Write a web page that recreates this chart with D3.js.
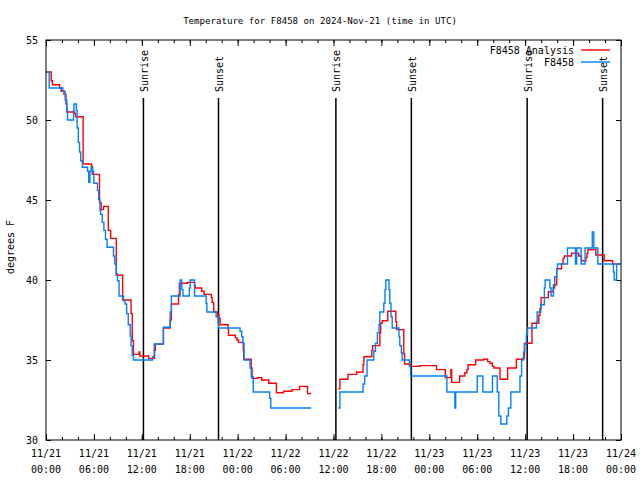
<!DOCTYPE html>
<html><head><meta charset="utf-8">
<script src="https://cdn.jsdelivr.net/npm/d3@7"></script>
<style>
body{margin:0;background:#fff}
text{font-family:"DejaVu Sans Mono",monospace;font-size:10px;fill:#000}
</style>
</head><body>
<svg id="c" width="640" height="480"></svg>
<script>
// ---- data (hours since 11/21 00:00 UTC; temperature in degrees F) ----
const anaHours = [0.0,0.65,0.8,1.7,1.9,2.25,2.5,2.6,3.6,3.7,4.65,5.7,5.8,6.7,6.9,7.2,7.8,8.1,8.8,9.6,10.65,10.8,10.95,11.65,11.75,12.85,13.6,13.7,14.7,15.55,15.7,16.6,16.7,17.7,18.6,18.7,19.5,19.8,20.7,20.8,21.0,21.1,21.5,21.65,21.8,22.8,22.85,23.7,23.9,24.1,24.7,24.75,25.7,25.8,26.5,27.0,27.9,28.85,29.75,30.8,31.75,32.75,33.2,33.3,
  36.6,36.8,37.8,38.9,39.7,39.8,40.8,40.9,41.8,41.9,42.1,42.8,43.8,43.9,44.8,44.9,45.65,46.8,48.9,50.0,50.7,50.8,51.8,52.45,52.7,52.85,53.8,54.8,55.3,55.6,55.9,56.1,56.85,57.8,58.9,59.7,59.9,60.85,61.7,61.85,62.0,62.9,63.5,63.7,63.95,64.55,64.75,64.9,65.8,66.7,67.05,67.6,67.75,67.85,68.85,69.9,70.95,72.0];
const anaTemps = [53.0,52.45,52.2,52.0,51.8,51.6,51.0,50.5,50.4,50.2,47.25,47.1,46.6,44.85,44.4,44.6,43.1,42.6,40.3,38.75,37.9,36.2,35.35,35.5,35.25,35.1,35.6,36.0,37.0,37.5,38.5,39.1,39.8,39.85,39.65,39.5,39.3,39.1,38.9,38.6,38.05,38.0,37.8,37.6,37.2,36.9,36.55,36.4,36.25,36.1,35.6,35.05,34.5,33.85,33.9,33.75,33.55,32.95,33.05,33.15,33.35,32.9,32.9,null,
  33.2,33.8,34.1,34.25,34.7,35.2,35.6,35.9,36.7,37.3,37.45,38.05,37.4,36.9,35.4,34.75,34.6,34.65,34.4,33.9,34.4,33.6,34.0,34.2,34.4,34.7,35.0,35.05,34.9,34.8,34.6,34.5,33.8,34.5,35.05,35.1,36.05,37.3,37.8,38.2,38.9,39.27,39.5,39.7,40.7,41.0,41.35,41.5,41.67,41.5,41.2,41.4,41.67,41.9,41.56,41.2,41.0,41.0];

const obsHours = [0.0,0.4,2.1,2.4,2.6,2.7,3.45,3.5,3.8,3.9,4.05,4.2,4.35,4.55,5.2,5.35,5.5,5.65,5.85,5.95,6.0,6.45,6.6,6.75,6.85,7.05,7.25,7.45,7.65,8.45,8.6,8.8,8.95,9.15,9.7,9.9,10.1,10.3,10.55,10.65,10.8,10.95,13.35,13.55,14.7,15.55,15.7,16.8,17.0,17.15,17.95,18.05,18.6,20.05,20.15,21.3,21.55,21.6,24.3,24.5,24.65,24.8,25.55,25.7,25.95,28.0,28.15,33.2,33.3,
  36.6,36.8,39.7,39.9,40.2,41.05,41.25,41.5,41.7,41.8,42.3,42.45,42.55,42.95,43.05,43.2,43.35,44.2,44.3,44.5,44.6,45.5,45.65,50.2,51.2,51.3,54.0,54.7,55.9,56.5,56.7,56.95,57.7,57.9,58.2,59.35,59.55,59.8,59.95,60.15,60.3,61.4,61.5,61.95,62.4,62.5,63.1,63.25,63.55,63.7,63.95,64.05,65.3,66.3,66.45,67.0,67.5,68.4,68.6,69.1,71.05,71.15,71.45,72.0];
const obsTemps = [53.0,52.0,51.8,51.25,50.6,50.0,50.6,51.0,50.6,49.5,48.6,48.0,47.45,47.05,46.8,46.1,46.8,47.05,46.8,46.6,46.05,45.6,45.05,44.35,44.1,43.6,43.1,42.55,42.05,41.5,41.0,40.4,39.95,39.0,38.7,38.5,37.9,37.2,36.5,35.9,35.3,35.0,35.2,36.0,37.05,38.0,39.0,40.0,39.4,39.0,39.5,40.0,39.0,38.55,38.0,37.7,37.3,37.0,36.8,36.45,36.05,35.0,34.5,33.95,33.0,32.6,32.0,32.0,null,
  32.0,33.0,33.5,34.0,35.0,35.55,36.05,36.7,37.2,38.0,38.55,39.4,40.0,39.4,38.55,37.7,37.0,36.45,35.9,35.45,35.0,34.6,34.0,33.0,32.0,33.0,34.0,33.0,34.0,33.0,31.5,31.0,31.5,32.0,33.0,34.0,35.0,35.5,36.0,36.56,37.0,37.4,38.0,38.45,39.5,40.0,39.5,39.0,39.7,40.2,40.7,41.0,42.0,41.0,42.0,41.0,42.0,43.0,42.0,41.0,40.5,40.0,41.0,41.0];

const sunLabels = ["Sunrise","Sunset","Sunrise","Sunset","Sunrise","Sunset"];
const sunHours = [12.2,21.6,36.3,45.75,60.25,69.7];

const yTicks = [30,35,40,45,50,55];
const xTickHours = [0,6,12,18,24,30,36,42,48,54,60,66,72];
const xTickDates = ["11/21","11/21","11/21","11/21","11/22","11/22","11/22","11/22","11/23","11/23","11/23","11/23","11/24"];
const xTickTimes = ["00:00","06:00","12:00","18:00","00:00","06:00","12:00","18:00","00:00","06:00","12:00","18:00","00:00"];
const xMinorHours = d3.range(0, 73, 2);

const seriesNames = ["F8458 Analysis","F8458"];
const seriesColors = ["#ff0000","#0080ff"];

// ---- chart ----
const svg = d3.select("#c");
const L = 46, R = 621, T = 40, B = 440;
const x = d3.scaleLinear().domain([0, 72]).range([L, R]);
const y = d3.scaleLinear().domain([30, 55]).range([B, T]);

svg.append("rect").attr("width",640).attr("height",480).attr("fill","#fff");

// title
svg.append("text").attr("x",320).attr("y",24).attr("text-anchor","middle")
  .style("font-size","9.1px")
  .text("Temperature for F8458 on 2024-Nov-21 (time in UTC)");

// y label
svg.append("text").attr("transform","translate(14,247) rotate(-90)").attr("text-anchor","middle")
  .text("degrees F");

function cleanAxis(g){ g.select(".domain").remove(); g.selectAll(".tick line").attr("stroke","#000"); }

// y axes (ticks inward)
svg.append("g").attr("transform",`translate(${L},0)`)
  .call(d3.axisLeft(y).tickValues(yTicks).tickSize(-5).tickPadding(8).tickFormat(d3.format("d")))
  .call(cleanAxis)
  .call(g=>g.selectAll("text").attr("font-family","DejaVu Sans Mono").attr("font-size",10).attr("fill","#000"));
svg.append("g").attr("transform",`translate(${R},0)`)
  .call(d3.axisRight(y).tickValues(yTicks).tickSize(-5).tickFormat(""))
  .call(cleanAxis);

// x axes: major and minor ticks, bottom and top
svg.append("g").attr("transform",`translate(0,${B})`)
  .call(d3.axisBottom(x).tickValues(xMinorHours).tickSize(-3).tickFormat("")).call(cleanAxis);
svg.append("g").attr("transform",`translate(0,${B})`)
  .call(d3.axisBottom(x).tickValues(xTickHours).tickSize(-6).tickFormat("")).call(cleanAxis);
svg.append("g").attr("transform",`translate(0,${T})`)
  .call(d3.axisTop(x).tickValues(xMinorHours).tickSize(-3).tickFormat("")).call(cleanAxis);
svg.append("g").attr("transform",`translate(0,${T})`)
  .call(d3.axisTop(x).tickValues(xTickHours).tickSize(-6).tickFormat("")).call(cleanAxis);

// x tick labels (two lines)
const xl = svg.append("g");
xTickHours.forEach((h,i)=>{
  const t = xl.append("text").attr("text-anchor","middle");
  t.append("tspan").attr("x",x(h)).attr("y",457).text(xTickDates[i]);
  t.append("tspan").attr("x",x(h)).attr("y",473).text(xTickTimes[i]);
});

// sunrise / sunset markers
sunHours.forEach((h,i)=>{
  svg.append("line").attr("x1",x(h)).attr("x2",x(h)).attr("y1",98).attr("y2",B)
    .attr("stroke","#000").attr("stroke-width",1.5);
  svg.append("text").attr("transform",`translate(${x(h)+4.5},92) rotate(-90)`)
    .attr("text-anchor","start").text(sunLabels[i]);
});

// series
const line = d3.line()
  .defined(d => d[1] != null)
  .x(d => x(d[0])).y(d => y(d[1]))
  .curve(d3.curveStepAfter);

const series = [
  d3.zip(anaHours, anaTemps),
  d3.zip(obsHours, obsTemps)
];
series.forEach((s,i)=>{
  svg.append("path").datum(s).attr("d", line)
    .attr("fill","none").attr("stroke",seriesColors[i]).attr("stroke-width",1.4);
});

// frame
svg.append("rect").attr("x",L).attr("y",T).attr("width",R-L).attr("height",B-T)
  .attr("fill","none").attr("stroke","#000").attr("stroke-width",1);

// legend
seriesNames.forEach((n,i)=>{
  const yy = 50 + i*12;
  svg.append("text").attr("x",574).attr("y",yy+3.5).attr("text-anchor","end").text(n);
  svg.append("line").attr("x1",581).attr("x2",610).attr("y1",yy).attr("y2",yy)
    .attr("stroke",seriesColors[i]).attr("stroke-width",1.4);
});
</script>
</body></html>
